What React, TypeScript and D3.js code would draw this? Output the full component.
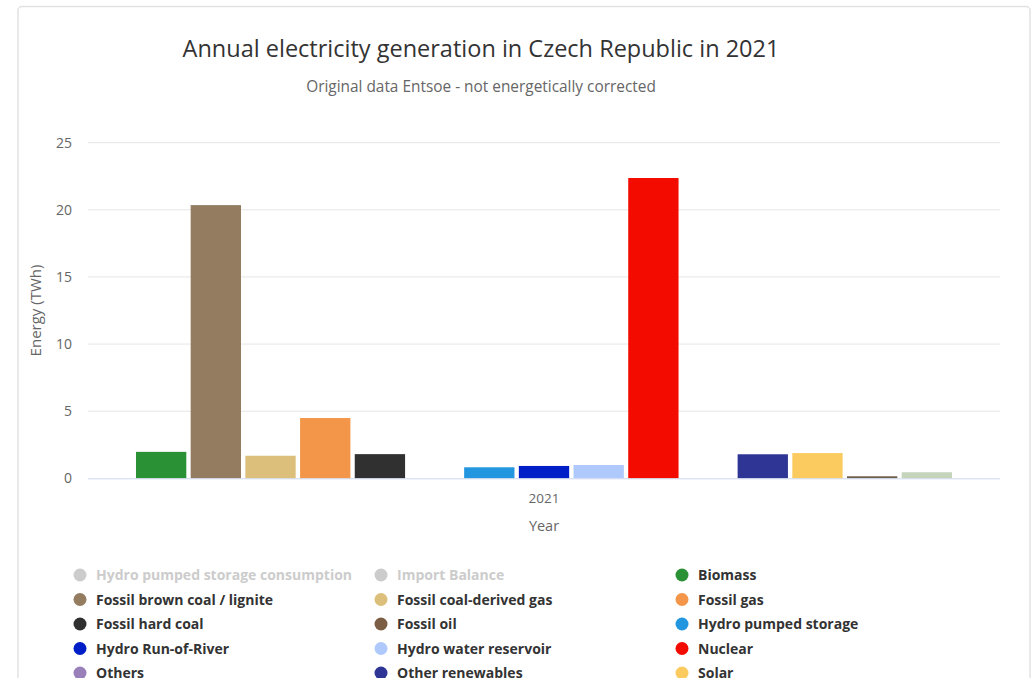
import React from "react";
import * as d3 from "d3";

const categories = ["2021"];
const seriesNames = [
  "Hydro pumped storage consumption",
  "Import Balance",
  "Biomass",
  "Fossil brown coal / lignite",
  "Fossil coal-derived gas",
  "Fossil gas",
  "Fossil hard coal",
  "Fossil oil",
  "Hydro pumped storage",
  "Hydro Run-of-River",
  "Hydro water reservoir",
  "Nuclear",
  "Others",
  "Other renewables",
  "Solar",
  "Waste",
  "Wind onshore",
];
const seriesValues = [
  0, 0, 1.97, 20.35, 1.68, 4.49, 1.8, 0, 0.82, 0.92, 0.99, 22.37, 0, 1.79, 1.88, 0.15, 0.45,
];
const seriesVisible = [
  false, false, true, true, true, true, true, true, true, true, true, true, true, true, true, true, true,
];
const seriesColors = [
  "#cccccc", "#cccccc", "#2a9134", "#947c60", "#dcbf7a", "#f39649", "#303030", "#7b5e43",
  "#2396e0", "#001ec8", "#b0c9fc", "#f40b00", "#9a80b8", "#2f3595", "#fccb5f", "#6e5c4c", "#c4d5bb",
];
const yTicks = [0, 5, 10, 15, 20, 25];

const FONT = "'Open Sans', sans-serif";

export default function App() {
  const W = 1034;
  const H = 678;
  const plot = { left: 88, right: 1000, top: 142.7, bottom: 478.3 };

  const y = d3.scaleLinear().domain([0, 25]).range([plot.bottom, plot.top]);
  const x0 = d3
    .scaleBand<string>()
    .domain(categories)
    .range([plot.left, plot.right])
    .paddingInner(0)
    .paddingOuter(0.0588);
  const visibleNames = seriesNames.filter((_, i) => seriesVisible[i]);
  const x1 = d3
    .scaleBand<string>()
    .domain(visibleNames)
    .range([0, x0.bandwidth()])
    .paddingInner(0.08)
    .paddingOuter(0);

  const legendCols = [80, 381, 682];
  const legendTop = 575;
  const legendStep = 24.5;

  return (
    <svg
      width={W}
      height={H}
      style={{ position: "absolute", left: 0, top: 0, background: "#fff" }}
      fontFamily={FONT}
    >
      <rect x={18} y={6.5} width={1012} height={760} rx={4} fill="#fff" stroke="#e2e2e2" strokeWidth={1.5} />
      <text x={481} y={57} textAnchor="middle" fontSize={23.5} fill="#333">
        Annual electricity generation in Czech Republic in 2021
      </text>
      <text x={481} y={92} textAnchor="middle" fontSize={15.4} fill="#666">
        Original data Entsoe - not energetically corrected
      </text>

      {yTicks.map((t) => (
        <g key={t}>
          {t !== 0 && (
            <line x1={plot.left} x2={plot.right} y1={y(t)} y2={y(t)} stroke="#e6e6e6" strokeWidth={1} />
          )}
          <text x={72} y={y(t) + 5} textAnchor="end" fontSize={14} fill="#666">
            {t}
          </text>
        </g>
      ))}
      <text
        transform={`translate(41,${(plot.top + plot.bottom) / 2}) rotate(-90)`}
        textAnchor="middle"
        fontSize={15}
        fill="#666"
      >
        Energy (TWh)
      </text>

      {categories.map((c) => (
        <g key={c} transform={`translate(${x0(c)},0)`}>
          {seriesNames.map((name, i) =>
            seriesVisible[i] ? (
              <rect
                key={name}
                x={x1(name)}
                y={y(seriesValues[i])}
                width={x1.bandwidth()}
                height={plot.bottom - y(seriesValues[i])}
                fill={seriesColors[i]}
              />
            ) : null
          )}
          <text x={x0.bandwidth() / 2} y={503} textAnchor="middle" fontSize={13.5} fill="#666">
            {c}
          </text>
        </g>
      ))}
      <line x1={plot.left} x2={plot.right} y1={plot.bottom + 0.5} y2={plot.bottom + 0.5} stroke="#ccd6eb" strokeWidth={1} />
      <text x={(plot.left + plot.right) / 2} y={531} textAnchor="middle" fontSize={14.5} fill="#666">
        Year
      </text>

      {seriesNames.map((name, i) => {
        const col = i % 3;
        const row = Math.floor(i / 3);
        const cx = legendCols[col];
        const cy = legendTop + row * legendStep;
        const c = seriesVisible[i] ? seriesColors[i] : "#cccccc";
        return (
          <g key={name}>
            <circle cx={cx} cy={cy} r={6.5} fill={c} />
            <text x={cx + 16} y={cy + 5} fontSize={14} fontWeight="bold" fill={seriesVisible[i] ? "#333" : "#cccccc"}>
              {name}
            </text>
          </g>
        );
      })}
    </svg>
  );
}
